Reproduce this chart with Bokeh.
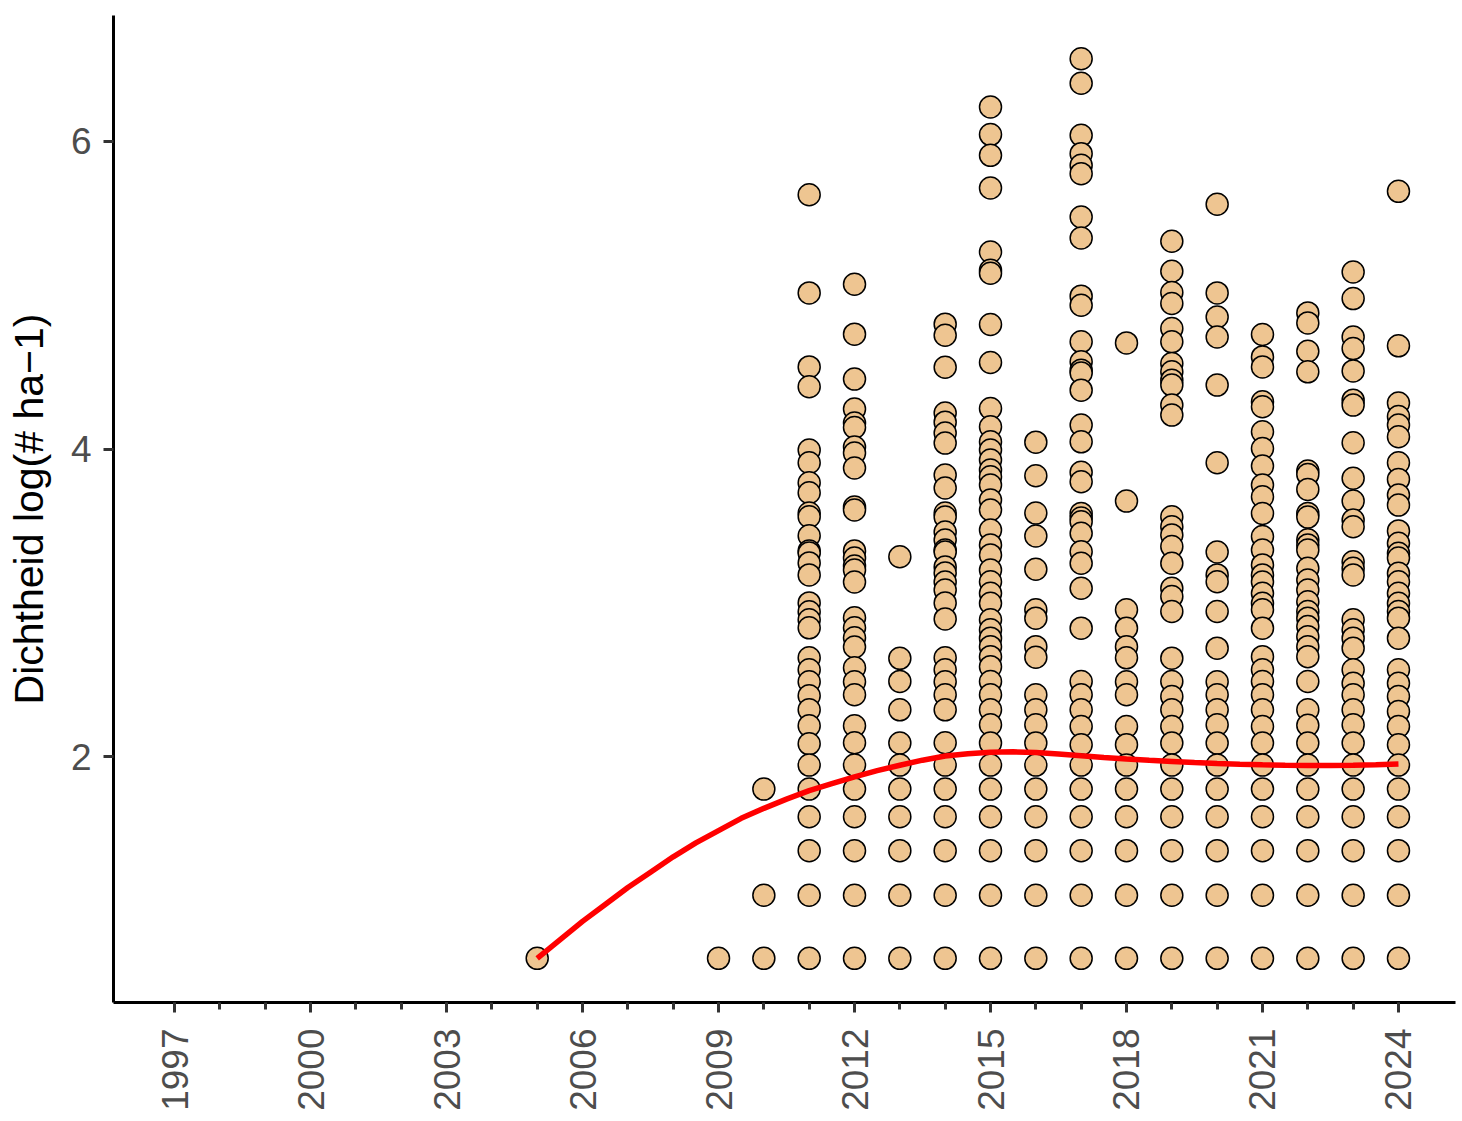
import numpy as np
from bokeh.plotting import figure
from bokeh.models import FixedTicker, Range1d, ColumnDataSource
from bokeh.embed import file_html
from bokeh.resources import INLINE

# ---- data: log densities per year ----
years_list = [2005, 2009, 2010, 2011, 2012, 2013, 2014, 2015, 2016, 2017, 2018,
              2019, 2020, 2021, 2022, 2023, 2024]

low = [1.946, 1.79, 1.61, 1.39, 1.10, 0.69]

v2005 = [0.69]
v2009 = [0.69]
v2010 = [1.79, 1.10, 0.69]
v2011 = [5.653, 5.015, 4.534, 4.405, 3.994, 3.911, 3.781, 3.716, 3.584, 3.560, 3.437,
         3.338, 3.325, 3.260, 3.182, 3.0, 2.942, 2.890, 2.838, 2.643, 2.565, 2.487,
         2.396, 2.305, 2.201, 2.084] + low
v2012 = [5.071, 4.747, 4.455, 4.260, 4.169, 4.14, 4.013, 3.974, 3.877, 3.623, 3.604,
         3.338, 3.292, 3.240, 3.214, 3.136, 2.903, 2.838, 2.773, 2.714, 2.578, 2.487,
         2.403, 2.201, 2.091] + low
v2013 = [3.30, 2.64, 2.49, 2.305, 2.09] + low
v2014 = [4.812, 4.740, 4.532, 4.234, 4.175, 4.104, 4.039, 3.831, 3.747, 3.584, 3.558,
         3.461, 3.409, 3.344, 3.331, 3.234, 3.195, 3.136, 3.084, 3.0, 2.896, 2.643,
         2.565, 2.487, 2.403, 2.305, 2.091] + low
v2015 = [6.223, 6.044, 5.909, 5.697, 5.281, 5.162, 5.143, 4.810, 4.563, 4.264, 4.145,
         4.047, 3.994, 3.929, 3.864, 3.820, 3.766, 3.669, 3.604, 3.474, 3.377, 3.312,
         3.214, 3.138, 3.063, 2.998, 2.890, 2.825, 2.771, 2.716, 2.651, 2.586, 2.489,
         2.403, 2.305, 2.208, 2.089] + low
v2016 = [4.045, 3.827, 3.584, 3.435, 3.219, 2.955, 2.901, 2.716, 2.647, 2.403, 2.305,
         2.208, 2.089] + low
v2017 = [6.537, 6.378, 6.039, 5.920, 5.844, 5.790, 5.508, 5.372, 4.994, 4.935, 4.697,
         4.567, 4.513, 4.494, 4.383, 4.156, 4.047, 3.849, 3.788, 3.582, 3.552, 3.528,
         3.453, 3.333, 3.258, 3.095, 2.836, 2.489, 2.403, 2.305, 2.197, 2.078] + low
v2018 = [4.690, 3.662, 2.955, 2.836, 2.716, 2.643, 2.487, 2.403, 2.197, 2.079] + low
v2019 = [5.351, 5.156, 5.018, 4.946, 4.784, 4.697, 4.556, 4.502, 4.448, 4.416, 4.286,
         4.221, 3.560, 3.495, 3.442, 3.366, 3.258, 3.095, 3.041, 2.944, 2.641, 2.489,
         2.392, 2.305, 2.197, 2.089] + low
v2020 = [5.591, 5.015, 4.858, 4.728, 4.416, 3.911, 3.331, 3.182, 3.138, 2.944, 2.706,
         2.487, 2.403, 2.305, 2.208, 2.089] + low
v2021 = [4.745, 4.599, 4.534, 4.307, 4.275, 4.112, 4.004, 3.890, 3.766, 3.690, 3.582,
         3.431, 3.344, 3.247, 3.182, 3.136, 3.063, 2.998, 2.955, 2.836, 2.651, 2.565,
         2.489, 2.403, 2.305, 2.197, 2.089] + low
v2022 = [4.885, 4.820, 4.636, 4.502, 3.857, 3.835, 3.738, 3.582, 3.558, 3.41, 3.377,
         3.344, 3.225, 3.149, 3.084, 3.008, 2.944, 2.901, 2.846, 2.781, 2.716, 2.651,
         2.489, 2.305, 2.205, 2.089] + low
v2023 = [5.151, 4.978, 4.728, 4.653, 4.508, 4.318, 4.286, 4.041, 3.810, 3.662, 3.539,
         3.495, 3.268, 3.225, 3.182, 2.890, 2.825, 2.771, 2.706, 2.565, 2.478, 2.403,
         2.305, 2.208, 2.089] + low
v2024 = [5.675, 4.671, 4.299, 4.212, 4.156, 4.080, 3.911, 3.803, 3.701, 3.636, 3.468,
         3.388, 3.323, 3.292, 3.193, 3.138, 3.063, 2.998, 2.944, 2.901, 2.771, 2.565,
         2.478, 2.392, 2.294, 2.197, 2.078] + low

values_by_year = [v2005, v2009, v2010, v2011, v2012, v2013, v2014, v2015, v2016, v2017,
                  v2018, v2019, v2020, v2021, v2022, v2023, v2024]

# smoothed trend (red line), read at half-year steps
trend_x = [2005, 2005.5, 2006, 2006.5, 2007, 2007.5, 2008, 2008.5, 2009, 2009.5,
           2010, 2010.5, 2011, 2011.5, 2012, 2012.5, 2013, 2013.5, 2014, 2014.5,
           2015, 2015.5, 2016, 2016.5, 2017, 2017.5, 2018, 2018.5, 2019, 2019.5,
           2020, 2020.5, 2021, 2021.5, 2022, 2022.5, 2023, 2023.5, 2024]
trend_y = [0.69, 0.81, 0.93, 1.04, 1.15, 1.25, 1.35, 1.44, 1.52, 1.60,
           1.665, 1.725, 1.78, 1.825, 1.87, 1.91, 1.945, 1.978, 2.005, 2.02,
           2.03, 2.032, 2.028, 2.018, 2.006, 1.995, 1.985, 1.977, 1.97, 1.963,
           1.957, 1.952, 1.948, 1.945, 1.944, 1.944, 1.945, 1.948, 1.953]

major_ticks = [1997, 2000, 2003, 2006, 2009, 2012, 2015, 2018, 2021, 2024]
minor_ticks = list(range(1997, 2025))
y_ticks = [2, 4, 6]

xs, ys = [], []
for yr, vals in zip(years_list, values_by_year):
    xs += [yr] * len(vals)
    ys += vals
src = ColumnDataSource(dict(x=xs, y=ys))

p = figure(width=1458, height=1113, output_backend="svg", toolbar_location=None,
           x_range=Range1d(1995.653, 2025.258), y_range=Range1d(0.403, 6.818),
           min_border_left=113, min_border_right=3, min_border_top=15,
           min_border_bottom=110)
p.outline_line_color = None
p.xgrid.visible = False
p.ygrid.visible = False
p.background_fill_color = "white"
p.border_fill_color = "white"

p.scatter("x", "y", source=src, size=22, fill_color="#EEC591", line_color="black",
          line_width=1.5)
p.line(trend_x, trend_y, line_color="#FF0000", line_width=5.5)

font = "Liberation Sans"
for ax in (p.xaxis[0], p.yaxis[0]):
    ax.axis_line_color = "black"
    ax.axis_line_width = 3
    ax.major_tick_line_color = "#333333"
    ax.major_tick_line_width = 3
    ax.major_tick_in = 0
    ax.major_tick_out = 10
    ax.major_label_text_font = font
    ax.major_label_text_font_size = "37px"
    ax.major_label_text_color = "#4D4D4D"
    ax.axis_label_text_font = font
    ax.axis_label_text_font_style = "normal"

p.xaxis.ticker = FixedTicker(ticks=major_ticks, minor_ticks=minor_ticks)
p.xaxis.minor_tick_line_color = "#333333"
p.xaxis.minor_tick_line_width = 3
p.xaxis.minor_tick_in = 0
p.xaxis.minor_tick_out = 7
p.xaxis.major_label_orientation = np.pi / 2
p.xaxis.major_label_standoff = 16

p.yaxis.ticker = FixedTicker(ticks=y_ticks)
p.yaxis.minor_tick_line_color = None
p.yaxis.major_label_standoff = 12
p.yaxis.axis_label = "Dichtheid log(# ha\u22121)"
p.yaxis.axis_label_text_font_size = "41px"
p.yaxis.axis_label_text_color = "black"
p.yaxis.axis_label_standoff = 16

open("out.html", "w").write(file_html(p, INLINE))
